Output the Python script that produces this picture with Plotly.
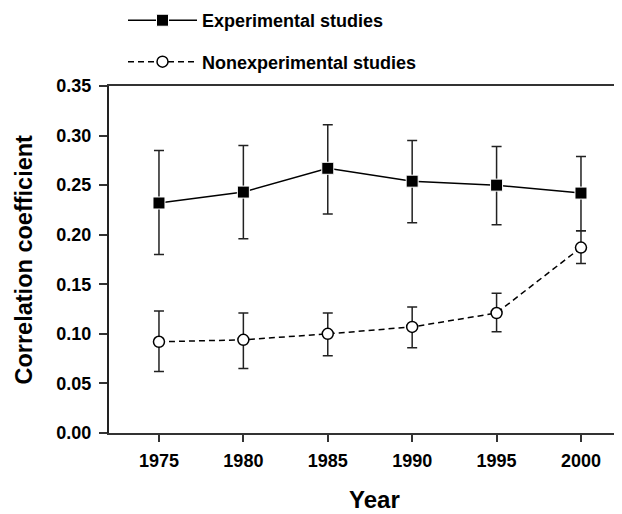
import plotly.graph_objects as go

years = [1975, 1980, 1985, 1990, 1995, 2000]
exp_mean = [0.232, 0.243, 0.267, 0.254, 0.250, 0.242]
exp_upper = [0.285, 0.290, 0.311, 0.295, 0.289, 0.279]
exp_lower = [0.180, 0.196, 0.221, 0.212, 0.210, 0.204]
non_mean = [0.092, 0.094, 0.100, 0.107, 0.121, 0.187]
non_upper = [0.123, 0.121, 0.121, 0.127, 0.141, 0.204]
non_lower = [0.062, 0.065, 0.078, 0.086, 0.102, 0.171]
yticks = [0.00, 0.05, 0.10, 0.15, 0.20, 0.25, 0.30, 0.35]
xticks = [1975, 1980, 1985, 1990, 1995, 2000]

FONT = "Liberation Sans, Arial, sans-serif"

def err(mean, up, lo):
    return dict(type="data", symmetric=False,
                array=[u - m for u, m in zip(up, mean)],
                arrayminus=[m - l for m, l in zip(mean, lo)],
                color="#222", thickness=1.5, width=5)

fig = go.Figure()
fig.add_trace(go.Scatter(
    x=years, y=exp_mean, mode="lines+markers", name="Experimental studies",
    legendgroup="a",
    line=dict(color="black", width=1.5, dash="solid"),
    marker=dict(symbol="square", size=12, color="black", line=dict(color="white", width=1)),
    error_y=err(exp_mean, exp_upper, exp_lower)))
fig.add_trace(go.Scatter(
    x=years, y=non_mean, mode="lines+markers", name="Nonexperimental studies",
    legendgroup="b",
    line=dict(color="black", width=1.5, dash="6px,4px"),
    marker=dict(symbol="circle", size=11, color="white", line=dict(color="black", width=1.5)),
    error_y=err(non_mean, non_upper, non_lower)))

# page body has an 8px default margin, so the figure is shrunk/shifted to compensate
fig.update_layout(
    width=614, height=506,
    margin=dict(l=101, r=0, t=78, b=81, autoexpand=False),
    paper_bgcolor="white", plot_bgcolor="white",
    font=dict(family=FONT, color="black", size=18),
    legend=dict(x=0.0273, y=1.242, xref="paper", yref="paper", xanchor="left", yanchor="top",
                font=dict(family=FONT, size=18, color="black", weight="bold"),
                tracegroupgap=15, itemwidth=69, bgcolor="rgba(0,0,0,0)"),
    xaxis=dict(range=[1972.04, 2002.43], tickvals=xticks, ticks="outside", ticklen=7,
               tickwidth=1.5, tickcolor="#333", showline=True, linecolor="#333", linewidth=2,
               mirror=True, showgrid=False, zeroline=False, automargin=False,
               ticklabelstandoff=3,
               tickfont=dict(family=FONT, size=18, weight="bold")),
    yaxis=dict(range=[0, 0.35], tickvals=yticks, tickformat=".2f", ticks="outside", ticklen=8,
               tickwidth=1.5, tickcolor="#333", showline=True, linecolor="#222", linewidth=2,
               showgrid=False, zeroline=False, automargin=False,
               ticklabelstandoff=4,
               tickfont=dict(family=FONT, size=18, weight="bold")),
    annotations=[
        dict(text="Year", xref="paper", yref="paper", x=0.5166, y=-0.193,
             xanchor="center", yanchor="middle", showarrow=False,
             font=dict(family=FONT, size=24, weight="bold")),
        dict(text="Correlation coefficient", xref="paper", yref="paper", x=-0.1657, y=0.5,
             xanchor="center", yanchor="middle", showarrow=False, textangle=-90,
             font=dict(family=FONT, size=23.5, weight="bold")),
    ],
)

fig.write_html("out.html")
